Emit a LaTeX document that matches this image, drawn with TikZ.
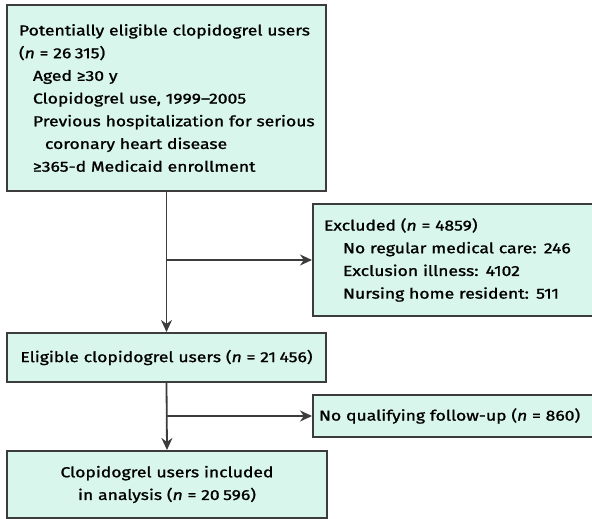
\documentclass[tikz,border=0pt]{standalone}
\usepackage{fontspec}
\setmainfont{Fira Sans}[FakeStretch=1.21, FakeBold=1.2]
\definecolor{boxmint}{HTML}{D8F6EC}
\definecolor{boxedge}{HTML}{3C3C3C}
\usetikzlibrary{arrows.meta, positioning, calc}
\newcommand{\branch}[3]
{
	\draw[flowarrow] (#1.south) -- (#2.north);
	\draw[flowarrow] (#1.south |- #3.west) -- (#3.west);
}
\newcommand{\numsp}{\hspace{3.5pt}}

\begin{document}
\begin{tikzpicture}[x=1pt, y=1pt,
	every node/.append style={shape=rectangle,
		draw=boxedge, fill=boxmint, line width=2pt,
		inner ysep=0pt,
		font=\fontsize{14.5}{22.7}\selectfont},
	flowarrow/.style={draw=boxedge, line width=1.8pt,
		-{Stealth[length=12pt, width=11pt]}}]
	\useasboundingbox (0,0) rectangle (592,-519);
	\clip (0,0) rectangle (592,-519);

	\node[minimum height=186, inner xsep=8pt, text width=303, align=left] at (166.5, -98) (potential){\hspace*{4pt}Potentially eligible clopidogrel users\\
		\hspace*{4pt}(\textit{n} = 26\numsp315)\\
		\hspace*{18pt}Aged ≥30 y\\
		\hspace*{18pt}Clopidogrel use, 1999–2005\\
		\hspace*{18pt}Previous hospitalization for serious\\
		\hspace*{30pt}coronary heart disease\\
		\hspace*{18pt}≥365-d Medicaid enrollment};
	\node[minimum height=112, inner xsep=11pt, text width=268, align=left] at (458, -260) (excluded){Excluded (\textit{n} = 4859)\\
		\hspace*{19pt}No regular medical care: 246\\
		\hspace*{19pt}Exclusion illness: 4102\\
		\hspace*{19pt}Nursing home resident: 511};
	\node[minimum height=49, inner xsep=4pt, text width=311, align=center] at (166.5, -357.5) (eligible){Eligible clopidogrel users (\textit{n} = 21\numsp456)};
	\node[minimum height=42, inner xsep=6pt, text width=278, align=left] at (458, -416) (noqual){No qualifying follow-up (\textit{n} = 860)};
	\node[minimum height=67, inner xsep=6pt, text width=308, align=center] at (167, -484.5) (included){Clopidogrel users included\\
		in analysis (\textit{n} = 20\numsp596)};
	\branch{potential}{eligible}{excluded}
	\branch{eligible}{included}{noqual}
\end{tikzpicture}
\end{document}
